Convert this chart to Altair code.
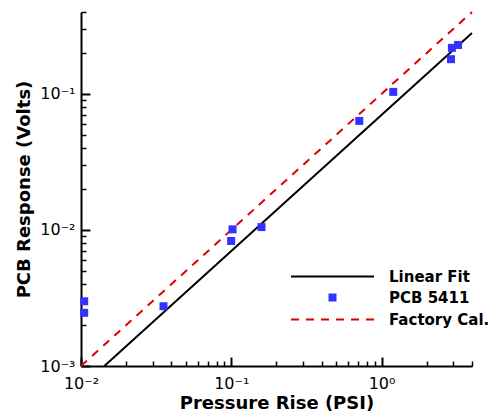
import json
import altair as alt
import pandas as pd

# ---- data ----
pcb_x = [0.0105, 0.0105, 0.0354, 0.102, 0.0998, 0.159, 0.711, 1.197, 2.90, 2.94, 3.23]
pcb_y = [0.00299, 0.00246, 0.00275, 0.0101, 0.0083, 0.0105, 0.0633, 0.1035, 0.180, 0.218, 0.229]
fit_x = [0.0143, 4.0]
fit_y = [0.001, 0.28]
fac_x = [0.01, 4.0]
fac_y = [0.001, 0.4]
series_names = ["Linear Fit", "PCB 5411", "Factory Cal."]

x_domain = [0.01, 4.0]
y_domain = [0.001, 0.4]
x_major = [0.01, 0.1, 1.0]
x_major_labels = ["10⁻²", "10⁻¹", "10⁰"]
x_minor = [0.02, 0.03, 0.04, 0.05, 0.06, 0.07, 0.08, 0.09,
           0.2, 0.3, 0.4, 0.5, 0.6, 0.7, 0.8, 0.9,
           2.0, 3.0, 4.0]
y_major = [0.001, 0.01, 0.1]
y_major_labels = ["10⁻³", "10⁻²", "10⁻¹"]
y_minor = [0.002, 0.003, 0.004, 0.005, 0.006, 0.007, 0.008, 0.009,
           0.02, 0.03, 0.04, 0.05, 0.06, 0.07, 0.08, 0.09,
           0.2, 0.3, 0.4]

fit_df = pd.DataFrame({"x": fit_x, "y": fit_y, "series": series_names[0]})
pcb_df = pd.DataFrame({"x": pcb_x, "y": pcb_y, "series": series_names[1]})
fac_df = pd.DataFrame({"x": fac_x, "y": fac_y, "series": series_names[2]})

FONT = "DejaVu Sans"
BLUE = "#3333ff"
RED = "#dd0000"
DASH = [8, 7]


def label_expr(values, labels):
    return f"{json.dumps(labels, ensure_ascii=False)}[indexof({json.dumps(values)}, datum.value)]"


xscale = alt.Scale(type="log", domain=x_domain, nice=False, zero=False)
yscale = alt.Scale(type="log", domain=y_domain, nice=False, zero=False)

x_axis_major = alt.Axis(
    orient="bottom", values=x_major, labelExpr=label_expr(x_major, x_major_labels),
    tickSize={"expr": "-9"}, tickWidth=2, tickColor="black",
    domainColor="black", domainWidth=2, grid=False,
    labelFont=FONT, labelFontSize=16, labelColor="black", labelPadding=18.5,
    labelFlush=False, labelOverlap=False,
    title="Pressure Rise (PSI)", titleFont=FONT, titleFontSize=18,
    titleFontWeight="bold", titleColor="black", titleBaseline="alphabetic", titleY=42,
)
y_axis_major = alt.Axis(
    orient="left", values=y_major, labelExpr=label_expr(y_major, y_major_labels),
    tickSize={"expr": "-9"}, tickWidth=2, tickColor="black",
    domainColor="black", domainWidth=2, grid=False,
    labelFont=FONT, labelFontSize=16, labelColor="black", labelPadding=15,
    labelFlush=False, labelOverlap=False, labelBaseline="middle",
    title="PCB Response (Volts)", titleFont=FONT, titleFontSize=18,
    titleFontWeight="bold", titleColor="black", titleBaseline="alphabetic", titleX=-52,
)
x_axis_minor = alt.Axis(
    orient="bottom", values=x_minor, labels=False, domain=False, grid=False,
    tickSize={"expr": "-5"}, tickWidth=1.5, tickColor="black", title=None,
)
y_axis_minor = alt.Axis(
    orient="left", values=y_minor, labels=False, domain=False, grid=False,
    tickSize={"expr": "-5"}, tickWidth=1.5, tickColor="black", title=None,
)

leg_common = dict(orient="none", title=None, labelFont=FONT, labelFontSize=15,
                  labelFontWeight="bold", labelColor="black", padding=0,
                  labelOffset=49, legendX=244)

fit_line = alt.Chart(fit_df).mark_line(strokeWidth=2).encode(
    x=alt.X("x:Q", scale=xscale, axis=x_axis_major),
    y=alt.Y("y:Q", scale=yscale, axis=y_axis_major),
    color=alt.Color("series:N", scale=alt.Scale(domain=[series_names[0]], range=["black"]),
                    legend=alt.Legend(symbolType="M-10.375,0H10.375", symbolSize=64,
                                      symbolStrokeWidth=2, legendY=257, **leg_common)),
)

fac_line = alt.Chart(fac_df).mark_line(strokeWidth=2, strokeDash=DASH).encode(
    x=alt.X("x:Q", scale=xscale, axis=None),
    y=alt.Y("y:Q", scale=yscale, axis=None),
    color=alt.Color("series:N", scale=alt.Scale(domain=[series_names[2]], range=[RED]),
                    legend=alt.Legend(symbolType="M-10.375,0H10.375", symbolSize=64,
                                      symbolStrokeWidth=2, symbolDash=DASH,
                                      legendY=300, **leg_common)),
)

points = alt.Chart(pcb_df).mark_square(size=64, opacity=1, filled=True).encode(
    x=alt.X("x:Q", scale=xscale, axis=x_axis_minor),
    y=alt.Y("y:Q", scale=yscale, axis=y_axis_minor),
    color=alt.Color("series:N", scale=alt.Scale(domain=[series_names[1]], range=[BLUE]),
                    legend=alt.Legend(symbolType="square", symbolSize=64,
                                      symbolStrokeWidth=0, legendY=278, **leg_common)),
)

chart = alt.layer(fit_line, fac_line, points).resolve_scale(
    color="independent"
).resolve_axis(
    x="independent", y="independent"
).resolve_legend(
    color="independent"
).properties(
    width=391, height=354, autosize="none",
    padding={"left": 73, "top": 4, "right": 18, "bottom": 45},
).configure_view(stroke=None)

chart.save("out.html", embed_options={"renderer": "svg", "actions": False})
